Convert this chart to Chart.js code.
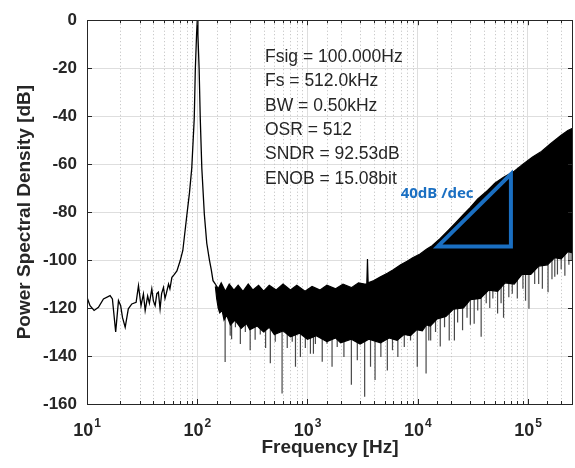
<!DOCTYPE html>
<html>
<head>
<meta charset="utf-8">
<script src="https://cdn.jsdelivr.net/npm/chart.js@4/dist/chart.umd.min.js"></script>
<style>
html,body{margin:0;padding:0;background:#fff;}
canvas{display:block;}
</style>
</head>
<body>
<canvas id="c" width="575" height="468"></canvas>
<script>
// ---- data ----
// low-frequency part of the spectrum including the 100 Hz tone
const lowFreq = [10,10.65,11.6,12.7,14.1,16.2,17.0,18.2,19.3,20.2,21,22.2,23.7,25.5,27.9,29.3,30.9,32.5,33.7,35.5,36.8,38.7,40,41.5,43,44.4,46,47.5,49.4,51,52.3,54.9,56.5,58.9,62,65.4,70,74,80.6,85,89.2,93.9,96.1,98.6,100,101.4,104,106.5,110,116,122,129,134,139,146];
const lowDb   = [-115.5,-119,-121,-119.7,-116.2,-114.8,-116.2,-130,-116.9,-119,-124,-128,-120.3,-118.3,-117.6,-110.7,-119,-114.1,-121,-115,-118,-112,-117,-119,-114,-113.4,-120.3,-114,-111.4,-116,-114.1,-110,-112,-107.2,-106,-104.5,-100.3,-96,-81,-72,-61.6,-41,-20.2,-6,0,-6,-20.2,-41,-61.6,-81,-93,-100,-104,-108.6,-110];

// upper edge of the noise band
const upFreq = [146,155,165,180,195,215,235,260,290,320,360,400,450,520,600,700,800,950,1100,1300,1500,1800,2100,2500,2900,3300,3450,3500,3550,4000,4600,5300,6000,7000,8000,9000,10500,12000,13500,16000,19000,22000,26000,30000,35000,43000,50000,60000,75000,90000,110000,130000,160000,200000,230000,256000];
const upDb   = [-110,-112,-109.5,-113,-110,-112.5,-110.5,-113,-110,-112.5,-110.5,-113,-110.5,-112.5,-110,-112.5,-110.5,-113,-111,-112.5,-110.5,-112,-110,-111.5,-109.5,-110,-110,-99.6,-109.5,-108.5,-107,-105.5,-104,-102,-100.5,-99,-97.5,-95.5,-94,-91,-87.5,-84.5,-81,-78,-74.5,-71,-68,-65.5,-63,-60,-57,-55,-51.5,-48,-46,-45];

// lower (dense) edge of the noise band
const loFreq = [146,150,155,160,168,175,185,200,220,250,280,300,350,400,450,500,600,700,850,1000,1200,1500,1800,2000,2500,3000,3600,4600,5500,6500,7500,8600,9800,11000,12000,13000,15000,18000,21000,26000,30000,37000,44000,53000,62000,75000,88000,106000,125000,150000,175000,200000,230000,256000];
const loDb   = [-111,-116,-120,-122,-121,-125,-123,-127,-125,-128.5,-126.5,-129,-127.5,-130,-128,-131,-129.5,-132,-130.5,-133,-131.5,-134,-132.5,-134.5,-133,-135,-133,-134.5,-132.5,-133.5,-131,-131.5,-129,-129.5,-127,-127.5,-124.5,-123.5,-120.5,-120,-116.5,-116,-112.5,-113,-109.5,-110,-106,-106,-102.5,-102,-99,-99.5,-96.5,-97];

// isolated downward spikes below the band
const spikeFreq = [179,199,205,222,246,273,302,335,373,417,460,510,588,655,727,778,862,956,1063,1132,1180,1360,1503,1670,1860,2140,2500,2830,3300,3730,4100,4630,5300,5900,6600,7550,8600,9900,11900,12600,13100,14500,16000,17500,19300,21500,23000,25500,28000,30000,32500,35000,37600,41800,45000,48000,53000,57000,60000,67000,72000,80000,90000,95000,102000,115000,125000,135000,152000,165000,175000,185000,200000,216000,235000,246000];
const spikeMin  = [-142.5,-131.4,-133,-128,-135,-130,-137.6,-133.2,-131,-136.7,-143,-134,-155.6,-136.7,-134,-144.5,-140.4,-136.7,-139,-139,-135,-142.4,-134.9,-144.5,-136.2,-140.4,-152,-141.8,-157,-144.5,-150,-140.4,-146,-137.6,-140.4,-136.2,-133.5,-144.5,-147.3,-133.5,-133.5,-130,-136,-128,-133.5,-133.5,-126,-129.3,-124,-127,-126.5,-121,-132,-118,-120,-116,-122.3,-118,-124,-115.5,-114,-116,-112,-117,-120.3,-110,-110,-112,-113.4,-108,-107,-106,-103.8,-106.5,-102,-100.3];
const spikeTop  = [-122,-122,-122,-122,-122,-122,-122,-122,-122,-122,-122,-122,-122,-122,-122,-122,-122,-122,-122,-122,-122,-122,-122,-122,-122,-122,-122,-122,-122,-122,-122,-122,-122,-122,-122,-122,-122,-122,-122,-122,-110,-110,-110,-110,-110,-110,-110,-110,-110,-110,-110,-100,-100,-100,-100,-100,-100,-100,-100,-100,-100,-90,-90,-90,-90,-90,-90,-90,-90,-90,-90,-90,-90,-90,-90,-90];

// 40 dB/dec guide triangle
const triFreq = [15200,70000,70000,15200,70000];
const triDb   = [-94.3,-64.2,-94.3,-94.3,-64.2];

// axis ticks and annotation text
const yTicks = [-160,-140,-120,-100,-80,-60,-40,-20,0];
const xDecades = [10,100,1000,10000,100000];
const xExponents = ['1','2','3','4','5'];
const infoLines = ['Fsig = 100.000Hz','Fs = 512.0kHz','BW = 0.50kHz','OSR = 512','SNDR = 92.53dB','ENOB = 15.08bit'];
const slopeLabel = '40dB /dec';

// ---- build chart ----
const pts = (xs, ys) => xs.map((x, i) => ({x, y: ys[i]}));
const spikePts = [];
spikeFreq.forEach((f, i) => {
  spikePts.push({x: f, y: spikeTop[i]});
  spikePts.push({x: f, y: spikeMin[i]});
  spikePts.push({x: f, y: null});
});

const isDecade = v => Math.abs(Math.log10(v) - Math.round(Math.log10(v))) < 1e-9;
const FONT = '"Liberation Sans", Arial, sans-serif';
const BLUE = '#1a6fc2';
const INK = '#262626';

const decor = {
  id: 'decor',
  beforeDatasetsDraw(chart) {
    const {ctx, chartArea: a, scales: {x}} = chart;
    ctx.save();
    ctx.strokeStyle = '#bdbdbd';
    ctx.lineWidth = 1;
    ctx.setLineDash([1, 2.5]);
    x.ticks.forEach(t => {
      if (isDecade(t.value) || t.value >= x.max) return;
      const px = Math.round(x.getPixelForValue(t.value)) + 0.5;
      ctx.beginPath(); ctx.moveTo(px, a.top); ctx.lineTo(px, a.bottom); ctx.stroke();
    });
    ctx.restore();
  },
  afterDatasetsDraw(chart) {
    const {ctx, chartArea: a, scales: {x, y}} = chart;
    ctx.save();
    // axes box
    ctx.strokeStyle = INK;
    ctx.lineWidth = 1;
    ctx.setLineDash([]);
    ctx.strokeRect(Math.round(a.left) + 0.5, Math.round(a.top) + 0.5, Math.round(a.right - a.left) - 1, Math.round(a.bottom - a.top));
    // tick marks (inside)
    ctx.beginPath();
    x.ticks.forEach(t => {
      if (t.value >= x.max) return;
      const px = Math.round(x.getPixelForValue(t.value)) + 0.5;
      const len = isDecade(t.value) ? 5 : 3;
      ctx.moveTo(px, a.bottom); ctx.lineTo(px, a.bottom - len);
      ctx.moveTo(px, a.top); ctx.lineTo(px, a.top + len);
    });
    yTicks.forEach(v => {
      const py = Math.round(y.getPixelForValue(v)) + 0.5;
      ctx.moveTo(a.left, py); ctx.lineTo(a.left + 5, py);
      ctx.moveTo(a.right, py); ctx.lineTo(a.right - 5, py);
    });
    ctx.stroke();
    // x tick labels 10^n
    ctx.fillStyle = INK;
    ctx.textBaseline = 'alphabetic';
    ctx.textAlign = 'left';
    xDecades.forEach((v, i) => {
      const px = x.getPixelForValue(v);
      ctx.font = 'bold 18px ' + FONT;
      const w1 = ctx.measureText('10').width;
      ctx.font = 'bold 12px ' + FONT;
      const w2 = ctx.measureText(xExponents[i]).width;
      const start = px - (w1 + w2 + 1) / 2;
      ctx.font = 'bold 18px ' + FONT;
      ctx.fillText('10', start, a.bottom + 32);
      ctx.font = 'bold 12px ' + FONT;
      ctx.fillText(xExponents[i], start + w1 + 1, a.bottom + 23);
    });
    // info text block
    ctx.font = '17.5px ' + FONT;
    ctx.textBaseline = 'middle';
    const tx = a.left + 178;
    infoLines.forEach((s, i) => {
      ctx.fillText(s, tx, a.top + 37 + i * 24.3);
    });
    // slope label
    ctx.fillStyle = BLUE;
    ctx.font = 'bold 15px "Noto Sans", ' + FONT;
    ctx.fillText(slopeLabel, x.getPixelForValue(7000), y.getPixelForValue(-72.3));
    ctx.restore();
  }
};

new Chart(document.getElementById('c'), {
  type: 'line',
  data: {
    datasets: [
      { // guide triangle (top)
        data: pts(triFreq, triDb), borderColor: BLUE, borderWidth: 4,
        borderJoinStyle: 'miter', pointRadius: 0, fill: false, order: 0, tension: 0
      },
      { // low-frequency trace
        data: pts(lowFreq, lowDb), borderColor: '#000', borderWidth: 1.3,
        pointRadius: 0, fill: false, order: 1, tension: 0
      },
      { // spikes (drawn underneath the band)
        data: spikePts, borderColor: '#484848', borderWidth: 1.2,
        pointRadius: 0, fill: false, spanGaps: false, order: 6, tension: 0
      },
      { // upper edge of band
        data: pts(upFreq, upDb), borderColor: '#000', borderWidth: 1.2,
        pointRadius: 0, fill: false, order: 3, tension: 0
      },
      { // lower edge of band, filled up to upper edge
        data: pts(loFreq, loDb), borderColor: '#000', borderWidth: 1.2,
        pointRadius: 0, fill: '-1', backgroundColor: '#000', order: 4, tension: 0
      }
    ]
  },
  options: {
    responsive: false,
    animation: false,
    devicePixelRatio: 1,
    layout: { padding: { top: 18, right: 2, left: 0, bottom: 0 } },
    plugins: { legend: { display: false }, tooltip: { enabled: false } },
    scales: {
      x: {
        type: 'logarithmic',
        min: 10, max: 256000,
        border: { display: false },
        grid: {
          drawTicks: false,
          color: c => (c.tick && isDecade(c.tick.value) && c.tick.value < 256000) ? '#dedede' : 'rgba(0,0,0,0)',
          lineWidth: 1
        },
        ticks: { display: false },
        title: {
          display: true, text: 'Frequency [Hz]', color: INK,
          font: { family: FONT, size: 19, weight: 'bold' },
          padding: { top: 0, bottom: 9 }
        },
        afterFit: s => { s.height = 64; }
      },
      y: {
        type: 'linear',
        min: -160, max: 0,
        border: { display: false },
        grid: { drawTicks: false, color: '#dedede', lineWidth: 1 },
        afterBuildTicks: s => { s.ticks = yTicks.map(v => ({value: v})); },
        ticks: {
          color: INK, padding: 10,
          font: { family: FONT, size: 17, weight: 'bold' },
          callback: v => String(v)
        },
        title: {
          display: true, text: 'Power Spectral Density [dB]', color: INK,
          font: { family: FONT, size: 19, weight: 'bold' },
          padding: { top: 13, bottom: 0 }
        },
        afterFit: s => { s.width = 87; }
      }
    }
  },
  plugins: [decor]
});
</script>
</body>
</html>
